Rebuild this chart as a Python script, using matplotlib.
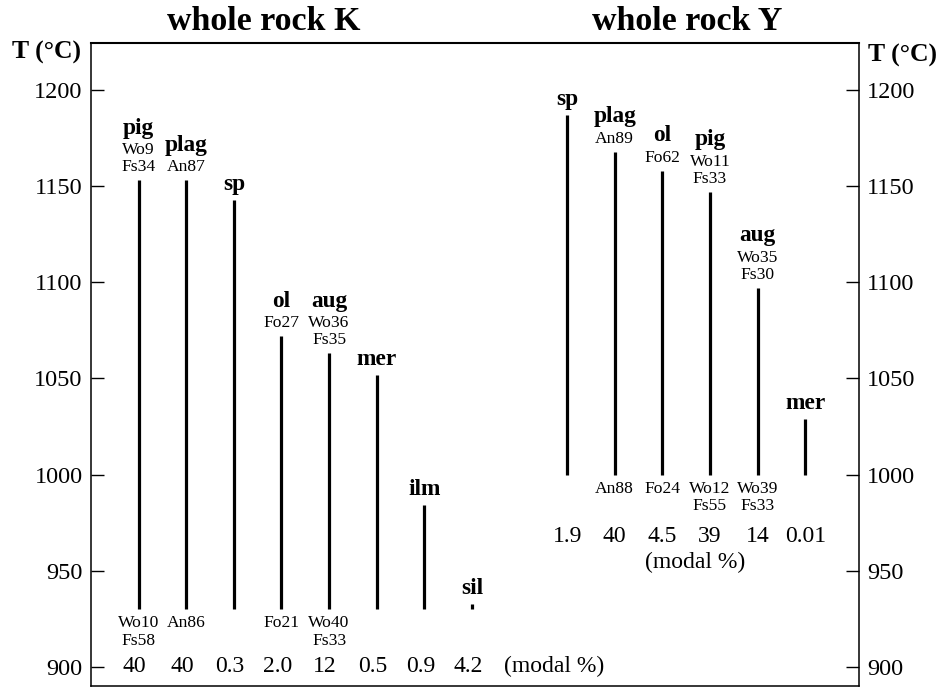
import matplotlib
matplotlib.use("Agg")
import matplotlib.pyplot as plt

plt.rcParams['font.family'] = ['Liberation Serif', 'DejaVu Serif']

# ---- data ----
k_minerals = ["pig", "plag", "sp", "ol", "aug", "mer", "ilm", "sil"]
k_top = [1153, 1153, 1143, 1072, 1063, 1052, 984, 932.5]
k_bottom = [930, 930, 930, 930, 930, 930, 930, 930]
k_top_comp = [["Wo9", "Fs34"], ["An87"], [], ["Fo27"], ["Wo36", "Fs35"], [], [], []]
k_bottom_comp = [["Wo10", "Fs58"], ["An86"], [], ["Fo21"], ["Wo40", "Fs33"], [], [], []]
k_modal = ["40", "40", "0.3", "2.0", "12", "0.5", "0.9", "4.2"]

y_minerals = ["sp", "plag", "ol", "pig", "aug", "mer"]
y_top = [1187, 1168, 1158, 1147, 1097, 1029]
y_bottom = [1000, 1000, 1000, 1000, 1000, 1000]
y_top_comp = [[], ["An89"], ["Fo62"], ["Wo11", "Fs33"], ["Wo35", "Fs30"], []]
y_bottom_comp = [[], ["An88"], ["Fo24"], ["Wo12", "Fs55"], ["Wo39", "Fs33"], []]
y_modal = ["1.9", "40", "4.5", "39", "14", "0.01"]

yticks = [900, 950, 1000, 1050, 1100, 1150, 1200]
titles = ["whole rock K", "whole rock Y"]
ylabel = "T (°C)"
modal_label = "(modal %)"

# ---- figure ----
fig = plt.figure(figsize=(9.4, 6.87), dpi=100)
ax = fig.add_axes([91/940, 1/687, (859-91)/940, (686-43)/687])
ax.set_xlim(-1.0, 15.13)
ax.set_ylim(890, 1224.5)

k_x = list(range(len(k_minerals)))
y_x = [9 + i for i in range(len(y_minerals))]

PX = 72/100.0  # points per pixel
NAME_FS = 16.8
COMP_FS = 12.6
NUM_FS = 17


def draw_group(xs, names, tops, bottoms, tcomp, bcomp):
    ax.vlines(xs, bottoms, tops, colors='black', linewidth=2.3)
    for x, n, t, b, tc, bc in zip(xs, names, tops, bottoms, tcomp, bcomp):
        off = 9
        for line in reversed(tc):
            ax.annotate(line, (x, t), xytext=(0, off*PX), textcoords='offset points',
                        ha='center', va='baseline', fontsize=COMP_FS)
            off += 17.4
        if tc:
            off = off - 17.4 + 20.5
        else:
            off = 10
        ax.annotate(n, (x, t), xytext=(0, off*PX), textcoords='offset points',
                    ha='center', va='baseline', fontsize=NAME_FS, fontweight='bold')
        off = 18
        for line in bc:
            ax.annotate(line, (x, b), xytext=(0, -off*PX), textcoords='offset points',
                        ha='center', va='baseline', fontsize=COMP_FS)
            off += 17.4


draw_group(k_x, k_minerals, k_top, k_bottom, k_top_comp, k_bottom_comp)
draw_group(y_x, y_minerals, y_top, y_bottom, y_top_comp, y_bottom_comp)

for x, m in zip(k_x, k_modal):
    ax.annotate(m, (x, 900), xytext=(-4*PX, 0), textcoords='offset points',
                ha='center', va='center', fontsize=NUM_FS)
ax.text(8.73, 900, modal_label, ha='center', va='center', fontsize=NUM_FS)

for x, m in zip(y_x, y_modal):
    ax.text(x, 968, m, ha='center', va='center', fontsize=NUM_FS)
ax.text(11.68, 954.5, modal_label, ha='center', va='center', fontsize=NUM_FS)

# axes styling
ax.set_xticks([])
ax.set_yticks(yticks)
ax.tick_params(axis='y', direction='in', length=9.5, width=1.0, labelsize=17.5,
               left=True, right=True, labelleft=True, labelright=True, pad=6.0)
for side in ['left', 'right', 'top', 'bottom']:
    ax.spines[side].set_linewidth(1.1)
ax.spines['top'].set_linewidth(1.5)

# titles and axis labels
fig.text(264/940, 1 - 22/687, titles[0], ha='center', va='center',
         fontsize=24.5, fontweight='bold')
fig.text(687/940, 1 - 22/687, titles[1], ha='center', va='center',
         fontsize=24.5, fontweight='bold')
fig.text(46/940, 1 - 52/687, ylabel, ha='center', va='center',
         fontsize=18.5, fontweight='bold')
fig.text(902/940, 1 - 55/687, ylabel, ha='center', va='center',
         fontsize=18.5, fontweight='bold')

fig.savefig("out.png", dpi=100)
